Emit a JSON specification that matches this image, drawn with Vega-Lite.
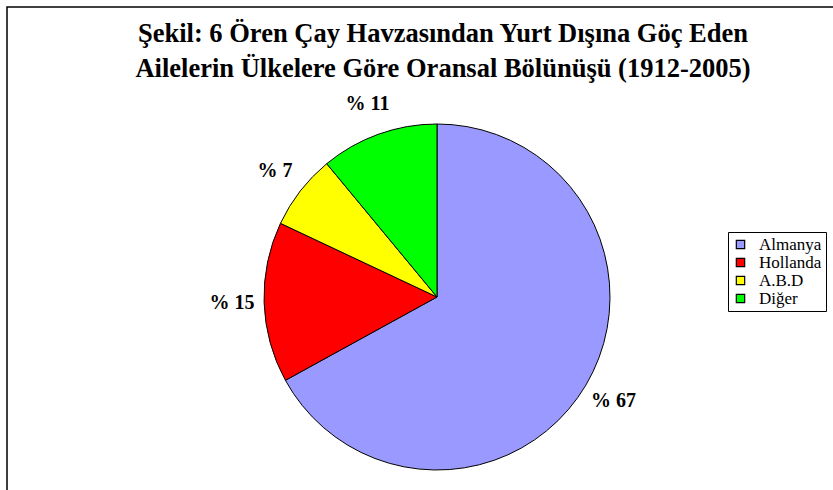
{
  "$schema": "https://vega.github.io/schema/vega-lite/v6.json",
  "autosize": "none",
  "width": 860,
  "height": 580,
  "padding": {"left": 7, "top": 7, "right": 0, "bottom": 0},
  "background": "white",
  "view": {"stroke": "black", "strokeWidth": 1.5},
  "title": {
    "text": ["Şekil: 6 Ören Çay Havzasından Yurt Dışına Göç Eden", "Ailelerin Ülkelere Göre Oransal Bölünüşü (1912-2005)"],
    "font": "Liberation Serif",
    "fontSize": 26.5,
    "fontWeight": "bold",
    "color": "black",
    "anchor": "middle",
    "frame": "group",
    "baseline": "top",
    "lineHeight": 35,
    "offset": -75,
    "dx": 6
  },
  "data": {
    "values": [
      {"ulke": "Almanya", "deger": 67, "sira": 1, "etiket": "% 67"},
      {"ulke": "Hollanda", "deger": 15, "sira": 2, "etiket": "% 15"},
      {"ulke": "A.B.D", "deger": 7, "sira": 3, "etiket": "% 7"},
      {"ulke": "Diğer", "deger": 11, "sira": 4, "etiket": "% 11"}
    ]
  },
  "encoding": {
    "theta": {"field": "deger", "type": "quantitative", "stack": true},
    "order": {"field": "sira", "type": "quantitative"}
  },
  "layer": [
    {
      "mark": {"type": "arc", "outerRadius": 173, "stroke": "black", "strokeWidth": 1},
      "encoding": {
        "color": {
          "field": "ulke",
          "type": "nominal",
          "scale": {"domain": ["Almanya", "Hollanda", "A.B.D", "Diğer"], "range": ["#9999FF", "#FF0000", "#FFFF00", "#00FF00"]},
          "legend": {
            "title": null,
            "orient": "none",
            "legendX": 721,
            "legendY": 225,
            "strokeColor": "black",
            "fillColor": "white",
            "padding": 4,
            "symbolType": "square",
            "symbolSize": 70,
            "symbolStrokeColor": "black",
            "symbolStrokeWidth": 1.2,
            "symbolOpacity": 1,
            "labelFont": "Liberation Serif",
            "labelFontSize": 17,
            "labelColor": "black",
            "labelOffset": 10,
            "rowPadding": 0
          }
        }
      }
    },
    {
      "mark": {"type": "text", "radius": 205, "font": "Liberation Serif", "fontSize": 20, "fontWeight": "bold", "color": "black"},
      "encoding": {
        "text": {"field": "etiket", "type": "nominal"}
      }
    }
  ]
}
